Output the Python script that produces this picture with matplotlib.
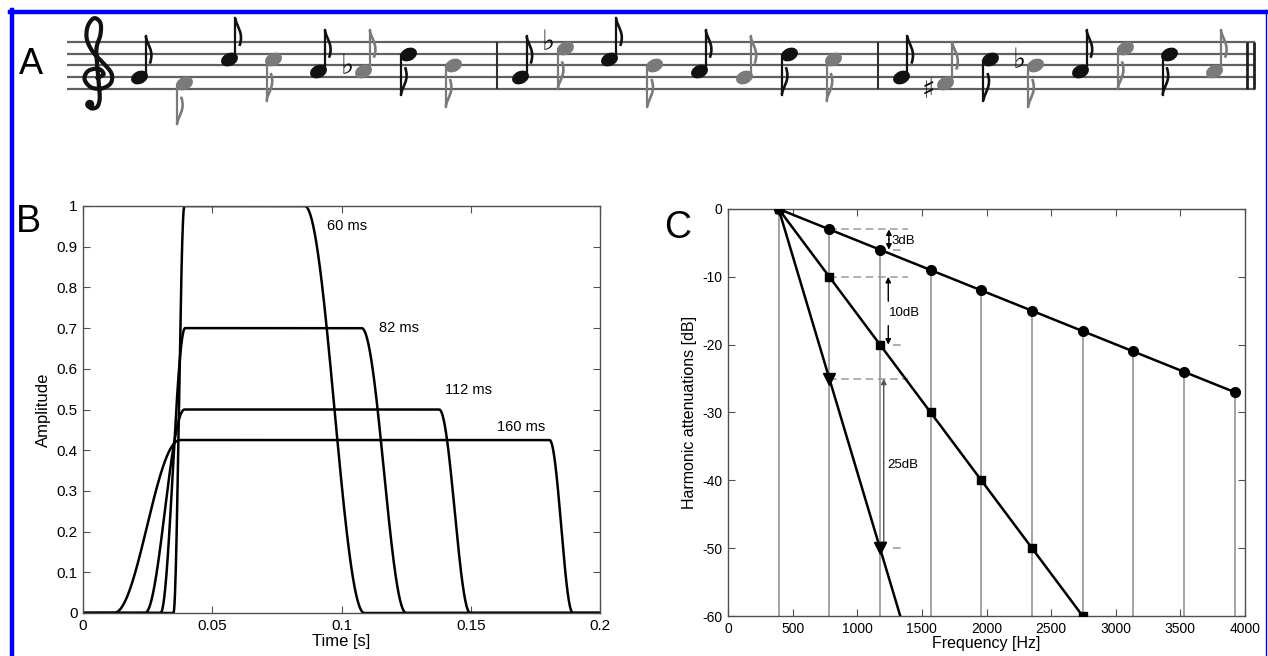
import numpy as np
import matplotlib
matplotlib.use("Agg")
import matplotlib.pyplot as plt
from matplotlib.path import Path
from matplotlib.patches import PathPatch, Ellipse
from matplotlib.transforms import Affine2D
from matplotlib.lines import Line2D

plt.rcParams['font.family'] = ['Liberation Sans', 'DejaVu Sans']
plt.rcParams['axes.unicode_minus'] = False

# ---------------- panel A: melody (diatonic step above E4)
note_step = [2, 1, 5, 5, 3, 3, 6, 4,
             2, 7, 5, 4, 3, 2, 6, 5,
             2, 1, 5, 4, 3, 7, 6, 3]
note_acc = ['', '', '', '', '', 'b', '', '',
            '', 'b', '', '', '', '', '', '',
            '', '#', '', 'b', '', '', '', '']
note_gray = [0, 1, 0, 1, 0, 1, 0, 1] * 3
note_stem_up = [1, 0, 1, 0, 1, 1, 0, 0,
                1, 0, 1, 0, 1, 1, 0, 0,
                1, 1, 0, 0, 1, 0, 0, 1]

# treble clef outline (staff spaces, G line at y=0) - no installed font has the glyph
clef_pts = [(0.05, -0.05), (0.45, 0.25), (0.15, 0.7), (-0.5, 0.55), (-0.75, -0.15),
            (-0.35, -0.85), (0.35, -0.95), (0.9, -0.5), (0.95, 0.3), (0.5, 1.1),
            (-0.2, 2.1), (-0.6, 3.2), (-0.55, 4.3), (-0.15, 5.0), (0.25, 4.6),
            (0.25, 3.6), (0.0, 2.4), (0.08, 0.5), (0.18, -1.0), (0.2, -1.9),
            (0.05, -2.5), (-0.3, -2.65), (-0.55, -2.4)]

# ---------------- panel B: envelopes
env_labels = ['60 ms', '82 ms', '112 ms', '160 ms']
env_amp = [1.0, 0.7, 0.5, 0.425]
env_on = [0.0350, 0.0300, 0.0240, 0.0120]
env_top = [0.0392, 0.0395, 0.0393, 0.0375]
env_fall = [0.0858, 0.1078, 0.1378, 0.1805]
env_off = [0.1088, 0.1250, 0.1498, 0.1895]
env_label_t = [0.0945, 0.1145, 0.1400, 0.1603]
env_label_a = [0.950, 0.700, 0.547, 0.458]

# ---------------- panel C: harmonic attenuations
harm_freq = [392, 784, 1176, 1568, 1960, 2352, 2744, 3136, 3528, 3920]
att_3db = [0, -3, -6, -9, -12, -15, -18, -21, -24, -27]
att_10db = [0, -10, -20, -30, -40, -50, -60]
att_25db = [0, -25, -50, -75]

dash_y = [-3, -6, -10, -20, -25, -50]
dash_x0 = [784, 1276, 784, 1276, 784, 1276]
dash_x1 = [1396, 1343, 1396, 1343, 1396, 1343]

fig = plt.figure(figsize=(12.68, 6.56), dpi=100, facecolor='white')
W, H = 1268, 656

def px_axes(left, top, right, bottom):
    return fig.add_axes([left / W, 1 - bottom / H, (right - left) / W, (bottom - top) / H])

def matlab_style(ax, fs):
    for s in ax.spines.values():
        s.set_color('#505050')
        s.set_linewidth(1.0)
    ax.tick_params(direction='in', top=True, right=True, length=5, width=0.8,
                   color='#505050', labelsize=fs, pad=4)

def smooth(pts, n=14):
    # catmull-rom through the outline points
    p = np.array(pts, float)
    p = np.vstack([p[0], p, p[-1]])
    out = []
    for i in range(1, len(p) - 2):
        p0, p1, p2, p3 = p[i - 1], p[i], p[i + 1], p[i + 2]
        for s in np.linspace(0, 1, n, endpoint=False):
            out.append(0.5 * ((2 * p1) + (-p0 + p2) * s + (2 * p0 - 5 * p1 + 4 * p2 - p3) * s ** 2
                              + (-p0 + 3 * p1 - 3 * p2 + p3) * s ** 3))
    out.append(p[-2])
    return np.array(out)

# ======== panel A
axA = px_axes(49.4, 136.2 - 129.8, 49.4 + 1209.6, 136.2)
axA.set_xlim(-2, 25)
axA.set_ylim(-8, 14)
axA.axis('off')
ux = 44.8      # px per x unit
space = 11.8   # px per staff space

axA.hlines([0, 2, 4, 6, 8], -1.6, 24.9, color='#606060', lw=1.6, zorder=1)
axA.vlines([8.0, 16.5], 0, 8, color='#303030', lw=1.5)
axA.vlines([24.73, 24.88], 0, 8, color='#202020', lw=2.0)

cl = smooth(clef_pts)
cx = 1.35 * space / ux
clef_x = -0.95 + cl[:, 0] * cx
clef_y = 2 + cl[:, 1] * 2
axA.plot(clef_x, clef_y, color='#111111', lw=3.0, solid_capstyle='round', zorder=3)
axA.add_patch(Ellipse((-0.95 - 0.42 * cx, 2 - 2.3 * 2), 0.65 * space / ux, 1.3,
                      color='#111111', zorder=3))

head = Path.unit_circle().transformed(Affine2D().scale(1.35, 0.95).rotate_deg(25))
note_x = [m * 8.5 + k for m in range(3) for k in range(8)]
for x, st, acc, g, up in zip(note_x, note_step, note_acc, note_gray, note_stem_up):
    col = '#7a7a7a' if g else '#111111'
    axA.plot(x, st, marker=head, ms=11.5, color=col, mec=col, zorder=3)
    if up:
        xs = x + 6.8 / ux
        axA.plot([xs, xs], [st + 0.3, st + 7.0], color=col, lw=1.6, zorder=3)
        verts = [(xs, st + 7.0), (xs + 0.02, st + 5.5), (xs + 0.2, st + 4.6), (xs + 0.09, st + 2.3)]
    else:
        xs = x - 6.8 / ux
        axA.plot([xs, xs], [st - 0.3, st - 7.0], color=col, lw=1.6, zorder=3)
        verts = [(xs, st - 7.0), (xs + 0.02, st - 5.5), (xs + 0.2, st - 4.6), (xs + 0.09, st - 2.3)]
    fl = Path(verts, [Path.MOVETO, Path.CURVE4, Path.CURVE4, Path.CURVE4])
    axA.add_patch(PathPatch(fl, fill=False, ec=col, lw=1.9, zorder=3))
    if acc == 'b':
        axA.text(x - 0.36, st + 0.9, '\u266d', fontsize=20, ha='center', va='center',
                 family=['DejaVu Sans'], color='#111111')
    elif acc == '#':
        axA.text(x - 0.38, st - 1.2, '\u266f', fontsize=20, ha='center', va='center',
                 family=['DejaVu Sans'], color='#111111')

fig.text(31 / W, 1 - 65 / H, 'A', fontsize=26, ha='center', va='center')

# ======== panel B
axB = px_axes(83, 206, 600, 613)
t = np.linspace(0, 0.2, 2001)
for amp, on, top, fall, off, lab, lt, la in zip(env_amp, env_on, env_top, env_fall, env_off,
                                                env_labels, env_label_t, env_label_a):
    rise = 0.5 * (1 - np.cos(np.pi * np.clip((t - on) / (top - on), 0, 1)))
    dec = 0.5 * (1 + np.cos(np.pi * np.clip((t - fall) / (off - fall), 0, 1)))
    axB.plot(t, amp * rise * dec, color='black', lw=1.8)
    axB.text(lt, la, lab, fontsize=10.5, ha='left', va='center')
axB.set_xlim(0, 0.2)
axB.set_ylim(0, 1)
axB.set_xticks([0, 0.05, 0.1, 0.15, 0.2])
axB.set_xticklabels(['0', '0.05', '0.1', '0.15', '0.2'])
axB.set_yticks(np.arange(0, 1.01, 0.1))
axB.set_yticklabels(['0', '0.1', '0.2', '0.3', '0.4', '0.5', '0.6', '0.7', '0.8', '0.9', '1'])
matlab_style(axB, 11)
axB.set_xlabel('Time [s]', fontsize=12, labelpad=1)
axB.set_ylabel('Amplitude', fontsize=12, labelpad=4)
fig.text(28 / W, 1 - 222 / H, 'B', fontsize=27, ha='center', va='center')

# ======== panel C
axC = px_axes(728, 209, 1245, 616)
axC.vlines(harm_freq, -60, att_3db, color='#8a8a8a', lw=1.1, zorder=1)
for y, x0, x1 in zip(dash_y, dash_x0, dash_x1):
    axC.plot([x0, x1], [y, y], color='#9a9a9a', lw=1.1, ls=(0, (5, 3)), zorder=1)
axC.plot(harm_freq[:len(att_10db)], att_10db, color='black', lw=1.8, marker='s', ms=5.5, zorder=3)
axC.plot(harm_freq, att_3db, color='black', lw=1.8, marker='o', ms=7, zorder=3)
axC.plot(harm_freq[:len(att_25db)], att_25db, color='black', lw=1.8, marker='v', ms=8.5, zorder=4)

arrow = dict(arrowstyle='-|>', color='black', lw=1.0, mutation_scale=8, shrinkA=0, shrinkB=0)
axC.annotate('', xy=(1245, -3), xytext=(1245, -4.6), arrowprops=arrow)
axC.annotate('', xy=(1245, -6), xytext=(1245, -4.4), arrowprops=arrow)
axC.text(1265, -4.7, '3dB', fontsize=9.5, ha='left', va='center')
axC.annotate('', xy=(1240, -10), xytext=(1240, -13.6), arrowprops=arrow)
axC.annotate('', xy=(1240, -20), xytext=(1240, -17.2), arrowprops=arrow)
axC.text(1245, -15.4, '10dB', fontsize=9.5, ha='left', va='center')
arrow_g = dict(arrow, color='#555555')
axC.annotate('', xy=(1205, -25), xytext=(1205, -37.5), arrowprops=arrow_g)
axC.annotate('', xy=(1205, -50), xytext=(1205, -37.5), arrowprops=arrow_g)
axC.text(1235, -37.7, '25dB', fontsize=9.5, ha='left', va='center')

axC.set_xlim(0, 4000)
axC.set_ylim(-60, 0)
axC.set_xticks(np.arange(0, 4001, 500))
axC.set_yticks(np.arange(-60, 1, 10))
matlab_style(axC, 10)
axC.set_xlabel('Frequency [Hz]', fontsize=11.5, labelpad=0)
axC.set_ylabel('Harmonic attenuations [dB]', fontsize=11.5, labelpad=4)
fig.text(678 / W, 1 - 228 / H, 'C', fontsize=27, ha='center', va='center')

# blue frame
blue = '#0000ff'
fig.add_artist(Line2D([10 / W, 1267 / W], [1 - 12 / H, 1 - 12 / H], transform=fig.transFigure, color=blue, lw=3.2))
fig.add_artist(Line2D([12 / W, 12 / W], [1 - 10 / H, 0], transform=fig.transFigure, color=blue, lw=3.2))
fig.add_artist(Line2D([1266 / W, 1266 / W], [1 - 10 / H, 0], transform=fig.transFigure, color=blue, lw=1.0))

fig.savefig('out.png', dpi=100, facecolor='white')
